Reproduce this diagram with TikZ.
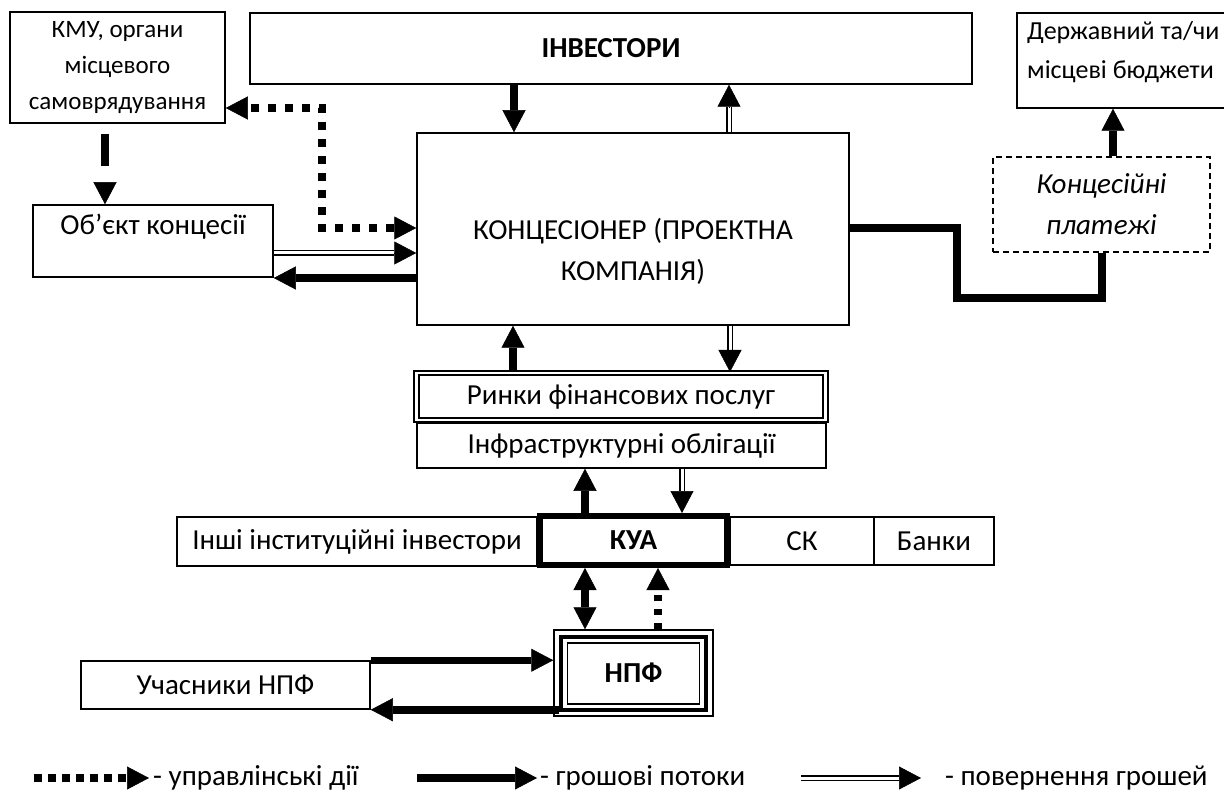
\documentclass[tikz,border=0pt]{standalone}
\usepackage{fontspec}
\setmainfont{Carlito}
\usetikzlibrary{arrows.meta,calc}
\newcommand\retarrow[2]{%
  \draw[retline] (#1) -- ($(#2)!22pt!(#1)$);
  \draw[rettip] ($(#2)!22pt!(#1)$) -- (#2);}
\begin{document}
\begin{tikzpicture}[x=1pt,y=-1pt,
 >={Triangle[length=22pt,width=23pt,line width=0.5pt]},
 box/.style={draw,line width=1.5pt,inner sep=0pt,align=center,font=\fontsize{29}{41}\selectfont},
 lbl/.style={inner sep=0pt,align=center,font=\fontsize{29}{41}\selectfont},
 money/.style={line width=7.5pt,->},
 money2/.style={line width=7.5pt,<->},
 mgmt/.style={line width=8pt,dash pattern=on 8pt off 9pt},
 retline/.style={line width=1.6pt,double,double distance=3pt},
 rettip/.style={line width=0.5pt,->},
]
\useasboundingbox (0,0) rectangle (1224,791);

% boxes
\node[box,minimum width=215pt,minimum height=111pt,font=\fontsize{25}{36}\selectfont] (kmu) at (117.5,67.5) {КМУ, органи\\місцевого\\самоврядування};
\node[box,minimum width=722pt,minimum height=71pt,font=\fontsize{29}{41}\selectfont\bfseries] (inv) at (611,48.5) {ІНВЕСТОРИ};
\node[box,minimum width=225pt,minimum height=95pt] (budg) at (1129.5,60.5) {};
\node[lbl,font=\fontsize{26}{39}\selectfont,align=left,anchor=west] (budgt) at (1027,52) {Державний та/чи\\місцеві бюджети};

\node[box,minimum width=432pt,minimum height=192pt] (konc) at (633,229) {};
\node[lbl] (konct) at (633,251) {КОНЦЕСІОНЕР (ПРОЕКТНА\\КОМПАНІЯ)};

\node[box,minimum width=240pt,minimum height=72pt] (obj) at (153,241) {};
\node[lbl] (objt) at (153,227) {Об’єкт концесії};

\node[box,dash pattern=on 6pt off 4pt,minimum width=217pt,minimum height=95pt,font=\fontsize{29}{41}\selectfont\itshape] (conc) at (1101.5,204.5) {Концесійні\\платежі};

\node[box,minimum width=409pt,minimum height=45pt] (infra) at (621.5,445.5) {Інфраструктурні облігації};
\node[box,double,double distance=2.5pt,line width=2pt,minimum width=409pt,minimum height=47pt] (rynky) at (621,396.5) {Ринки фінансових послуг};

\node[box,minimum width=360pt,minimum height=49pt] (inshi) at (357,541.5) {Інші інституційні інвестори};
\node[box,minimum width=144pt,minimum height=48pt] (sk) at (802,541) {СК};
\node[box,minimum width=120pt,minimum height=48pt] (banky) at (934,541) {Банки};
\node[box,line width=6pt,minimum width=187pt,minimum height=49pt,font=\fontsize{29}{41}\selectfont\bfseries] (kua) at (633.5,540.5) {КУА};

\node[box,minimum width=159pt,minimum height=86pt,font=\fontsize{29}{41}\selectfont\bfseries] (npf) at (633.5,673) {НПФ};
\draw[line width=4pt] ([shift={(7.5,7.5)}]npf.north west) rectangle ([shift={(-7.5,-6.5)}]npf.south east);
\draw[line width=1.5pt] ([shift={(14,13.5)}]npf.north west) rectangle ([shift={(-14.5,-13)}]npf.south east);

\node[box,minimum width=289pt,minimum height=48pt] (uch) at (225.5,685) {Учасники НПФ};

% connectors
\draw[line width=8pt,dash pattern=on 0pt off 10pt on 32pt off 100pt,->] (kmu.south -| 105,0) -- (obj.north -| 105,0);
\draw[mgmt,<->] (konc.west |- 0,228) -- ++(-94,0) |- (kmu.east |- 0,108);

\coordinate (r1a) at (obj.east |- 0,253);
\coordinate (r1b) at (konc.west |- 0,253);
\retarrow{r1a}{r1b}
\draw[money] (konc.west |- 0,278) -- (obj.east |- 0,278);

\draw[money] (inv.south -| 514,0) -- (konc.north -| 514,0);
\coordinate (r2a) at (konc.north -| 729,0);
\coordinate (r2b) at (inv.south -| 729,0);
\retarrow{r2a}{r2b}

\draw[line width=8pt,line join=miter] (konc.east |- 0,228) -- ++(107,0) -- ++(0,70) -| (conc.south);
\draw[money] (conc.north -| 1113,0) -- (budg.south -| 1113,0);

\draw[money] (rynky.north -| 513,0) -- (konc.south -| 513,0);
\coordinate (r3a) at (konc.south -| 730,0);
\coordinate (r3b) at (rynky.north -| 730,0);
\retarrow{r3a}{r3b}

\draw[money] (kua.north -| 585,0) -- (infra.south -| 585,0);
\coordinate (r4a) at (infra.south -| 682,0);
\coordinate (r4b) at (kua.north -| 682,0);
\retarrow{r4a}{r4b}

\draw[money2] (kua.south -| 585,0) -- (npf.north -| 585,0);
\draw[line width=8pt,dash pattern=on 6pt off 8pt,->] (npf.north -| 658,0) -- (kua.south -| 658,0);

\draw[money] (uch.north east) -- (npf.west |- uch.north east);
\draw[money] ([xshift=6pt]npf.west |- uch.south east) -- (uch.south east);

% legend
\coordinate (lg1a) at (34,778);
\coordinate (lg1b) at (149,778);
\draw[line width=8pt,dash pattern=on 8pt off 6pt,->] (lg1a) -- (lg1b);
\node[lbl,anchor=base west] (lg1t) at (153,785) {- управлінські дії};
\coordinate (lg2a) at (417,778);
\coordinate (lg2b) at (537,778);
\draw[money] (lg2a) -- (lg2b);
\node[lbl,anchor=base west] (lg2t) at (540,785) {- грошові потоки};
\coordinate (lg3a) at (801,778);
\coordinate (lg3b) at (921,778);
\retarrow{lg3a}{lg3b}
\node[lbl,anchor=base west] (lg3t) at (945,785) {- повернення грошей};
\end{tikzpicture}
\end{document}
